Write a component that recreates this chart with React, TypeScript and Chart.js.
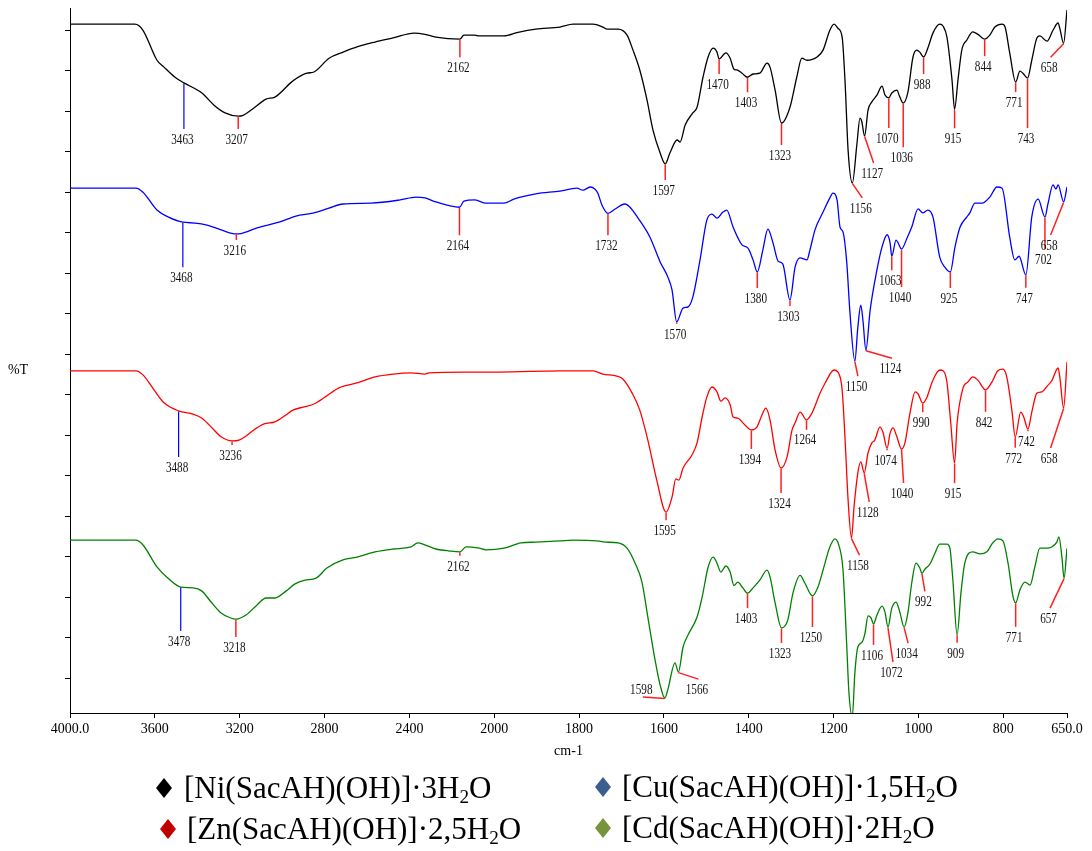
import React, { useEffect, useRef } from 'react';
import { Chart, registerables } from 'chart.js';

Chart.register(...registerables);

// ---------- axis ----------
const tickWavenumbers = [4000, 3600, 3200, 2800, 2400, 2000, 1800, 1600, 1400, 1200, 1000, 800, 650];
const tickLabels = ['4000.0', '3600', '3200', '2800', '2400', '2000', '1800', '1600', '1400', '1200', '1000', '800', '650.0'];
const yTicks = [0, 10, 20, 30, 40, 50, 60, 70, 80, 90, 100, 110, 120, 130, 140, 150, 160];

// spectrometer style axis: 2x expansion below 2000 cm-1
const toAxis = (w: number) => (w >= 2000 ? 4000 - w : 2000 + 2 * (2000 - w));

// ---------- series names / colours ----------
const seriesNames = ['[Ni(SacAH)(OH)]·3H₂O', '[Cu(SacAH)(OH)]·1,5H₂O', '[Zn(SacAH)(OH)]·2,5H₂O', '[Cd(SacAH)(OH)]·2H₂O'];
const seriesColors = ['#000000', '#0000ff', '#ff0000', '#008000'];
const legendMarkerColors = ['#000000', '#3a5f8f', '#c00000', '#77933c'];

// ---------- spectra: [wavenumber cm-1, %T (offset)] ----------
const niSpectrum: [number, number][] = [
  [4000, 161.5], [3694, 161.5], [3656, 160.0], [3590, 152.6], [3557, 150.9], [3505, 148.4], [3463, 147.0], [3378, 144.5],
  [3321, 141.5], [3269, 139.6], [3207, 138.8], [3184, 139.0], [3133, 140.8], [3076, 143.0], [3034, 143.5], [2949, 147.5],
  [2883, 149.4], [2850, 149.7], [2779, 153.1], [2713, 154.6], [2647, 155.9], [2562, 157.1], [2477, 158.1], [2378, 159.3],
  [2327, 159.0], [2275, 158.3], [2162, 157.8], [2143, 158.8], [2091, 158.8], [2072, 158.6], [1977, 158.6], [1944, 159.5],
  [1902, 160.3], [1845, 160.8], [1814, 161.5], [1767, 161.5], [1744, 160.8], [1734, 160.3], [1708, 160.3], [1687, 158.8],
  [1673, 155.1], [1657, 150.2], [1640, 142.8], [1626, 135.4], [1609, 129.7], [1597, 127.0], [1586, 129.7], [1569, 132.9],
  [1562, 132.4], [1550, 136.6], [1532, 139.6], [1522, 141.0], [1508, 148.4], [1496, 153.4], [1484, 155.6], [1475, 154.6],
  [1470, 152.9], [1454, 154.4], [1444, 153.1], [1435, 150.4], [1428, 150.2], [1416, 149.4], [1403, 148.4], [1390, 149.2],
  [1374, 149.4], [1357, 151.9], [1350, 150.9], [1338, 145.2], [1323, 137.1], [1303, 141.0], [1287, 148.4], [1275, 153.1],
  [1263, 152.6], [1239, 153.4], [1225, 155.1], [1209, 160.0], [1199, 161.5], [1190, 160.5], [1180, 158.3], [1173, 147.0],
  [1166, 130.4], [1156, 122.3], [1145, 132.1], [1138, 138.3], [1134, 137.6], [1127, 133.9], [1119, 140.3], [1110, 142.3],
  [1098, 144.0], [1086, 146.2], [1079, 144.0], [1070, 143.3], [1063, 144.5], [1051, 145.2], [1044, 143.5], [1036, 142.0],
  [1025, 144.7], [1013, 153.4], [1004, 155.1], [997, 154.6], [988, 153.4], [978, 155.6], [966, 159.3], [950, 161.5],
  [942, 161.0], [933, 158.3], [921, 147.7], [915, 140.5], [907, 147.7], [898, 155.1], [886, 157.6], [872, 159.6],
  [860, 159.0], [844, 157.8], [832, 158.8], [820, 160.8], [803, 161.5], [796, 160.8], [785, 154.4], [771, 147.2],
  [761, 149.9], [754, 149.4], [743, 148.2], [733, 152.6], [721, 158.1], [714, 158.6], [697, 157.3], [683, 160.0],
  [671, 161.8], [667, 160.5], [658, 156.8], [650, 165.0],
];

const cuSpectrum: [number, number][] = [
  [4000, 121.0], [3689, 121.0], [3656, 120.0], [3590, 115.6], [3538, 113.9], [3468, 112.6], [3411, 112.4], [3354, 111.9],
  [3288, 110.7], [3216, 109.7], [3194, 109.8], [3118, 111.2], [3015, 112.6], [2935, 114.1], [2850, 114.9], [2779, 116.1],
  [2713, 117.1], [2581, 117.3], [2444, 118.1], [2369, 118.8], [2327, 118.6], [2275, 117.6], [2164, 116.3], [2143, 117.8],
  [2091, 118.1], [2039, 117.3], [1977, 117.3], [1954, 118.3], [1902, 119.6], [1845, 120.3], [1805, 121.0], [1791, 120.5],
  [1774, 121.3], [1763, 120.8], [1756, 119.8], [1746, 116.8], [1732, 114.8], [1716, 115.8], [1692, 117.1], [1680, 116.3],
  [1661, 113.6], [1633, 108.9], [1609, 102.8], [1591, 99.1], [1581, 95.9], [1570, 88.0], [1555, 91.4], [1543, 91.7],
  [1532, 94.1], [1515, 103.3], [1499, 113.1], [1487, 114.6], [1475, 113.6], [1461, 115.1], [1452, 115.6], [1437, 111.4],
  [1416, 107.0], [1402, 106.2], [1390, 103.3], [1380, 100.3], [1367, 105.7], [1355, 110.9], [1343, 107.5], [1331, 103.0],
  [1320, 102.3], [1303, 93.4], [1291, 101.5], [1279, 103.8], [1263, 103.3], [1256, 105.7], [1244, 110.7], [1225, 115.1],
  [1209, 118.6], [1202, 119.8], [1192, 118.1], [1185, 111.4], [1178, 110.2], [1169, 102.5], [1162, 90.9], [1150, 78.3],
  [1143, 86.7], [1136, 92.1], [1131, 88.4], [1124, 81.0], [1114, 90.9], [1098, 100.8], [1086, 106.5], [1074, 109.5],
  [1067, 107.5], [1063, 104.2], [1053, 108.2], [1049, 107.7], [1040, 106.0], [1027, 108.7], [1016, 111.4], [1001, 115.9],
  [990, 114.9], [978, 115.6], [966, 113.9], [950, 104.0], [938, 101.5], [925, 100.3], [914, 106.5], [902, 111.4],
  [886, 113.9], [879, 114.9], [867, 117.3], [850, 117.3], [832, 118.8], [815, 121.3], [803, 121.0], [785, 108.9],
  [773, 103.3], [763, 104.2], [747, 99.6], [733, 113.9], [718, 118.3], [702, 113.9], [695, 117.1], [683, 121.8],
  [676, 120.8], [671, 121.8], [658, 117.6], [650, 121.3],
];

const znSpectrum: [number, number][] = [
  [4000, 75.9], [3689, 75.9], [3656, 74.9], [3604, 71.2], [3557, 68.0], [3488, 66.0], [3420, 65.2], [3378, 64.2],
  [3321, 61.3], [3288, 59.6], [3236, 58.6], [3203, 58.8], [3170, 59.8], [3128, 61.5], [3085, 62.8], [3034, 63.3],
  [2982, 65.0], [2949, 66.2], [2897, 67.0], [2850, 67.7], [2798, 69.4], [2732, 71.7], [2647, 72.9], [2562, 74.4],
  [2477, 75.1], [2393, 75.4], [2327, 75.1], [2308, 75.4], [2143, 75.6], [1987, 75.6], [1845, 75.9], [1767, 75.9],
  [1744, 75.1], [1711, 74.6], [1697, 73.9], [1675, 70.4], [1657, 66.2], [1638, 58.8], [1617, 48.9], [1595, 41.0],
  [1581, 44.7], [1572, 49.2], [1565, 48.9], [1555, 51.9], [1534, 55.1], [1522, 58.1], [1510, 64.5], [1499, 69.4],
  [1487, 71.9], [1475, 70.7], [1466, 68.4], [1456, 69.2], [1444, 67.5], [1437, 64.5], [1426, 64.2], [1409, 62.5],
  [1394, 61.3], [1381, 62.0], [1369, 65.0], [1360, 66.7], [1350, 63.8], [1338, 56.3], [1324, 51.9], [1310, 54.6],
  [1298, 61.3], [1291, 63.0], [1279, 65.7], [1264, 63.8], [1251, 65.5], [1232, 70.4], [1220, 72.9], [1199, 76.1],
  [1190, 75.6], [1180, 71.2], [1173, 58.8], [1166, 44.0], [1158, 34.6], [1152, 42.3], [1143, 50.7], [1136, 53.4],
  [1128, 50.7], [1119, 55.6], [1110, 58.1], [1103, 58.8], [1091, 62.0], [1084, 60.8], [1074, 56.8], [1067, 60.5],
  [1060, 61.8], [1051, 59.6], [1040, 56.6], [1032, 58.1], [1020, 65.5], [1008, 70.7], [1001, 70.2], [990, 67.9],
  [980, 69.4], [968, 73.1], [950, 76.1], [942, 75.9], [933, 73.1], [924, 63.0], [915, 53.1], [909, 63.0],
  [895, 71.7], [884, 73.1], [872, 74.4], [860, 73.6], [842, 71.2], [827, 73.1], [813, 75.9], [801, 76.3],
  [792, 74.4], [780, 66.2], [772, 59.6], [759, 65.7], [752, 64.5], [742, 61.5], [733, 65.7], [721, 70.4],
  [709, 70.7], [697, 72.1], [686, 73.4], [671, 76.6], [667, 74.4], [658, 66.7], [650, 78.1],
];

const cdSpectrum: [number, number][] = [
  [4000, 34.1], [3689, 34.1], [3656, 32.9], [3590, 27.5], [3538, 24.7], [3478, 22.5], [3420, 22.3], [3378, 21.5],
  [3335, 18.8], [3288, 16.1], [3240, 14.8], [3218, 14.6], [3170, 15.6], [3118, 18.1], [3076, 19.8], [3034, 19.8],
  [2982, 21.5], [2939, 23.3], [2892, 24.2], [2840, 24.7], [2789, 27.2], [2713, 29.2], [2647, 29.9], [2562, 31.2],
  [2477, 31.9], [2393, 32.4], [2360, 33.4], [2327, 32.9], [2275, 31.9], [2209, 31.4], [2162, 31.2], [2133, 32.4],
  [2072, 32.1], [2039, 31.7], [1977, 32.1], [1937, 33.4], [1902, 33.6], [1845, 33.9], [1814, 34.1], [1758, 33.9],
  [1739, 33.6], [1708, 33.4], [1687, 32.1], [1668, 28.4], [1652, 23.8], [1638, 15.1], [1621, 4.5], [1609, -1.7],
  [1598, -4.9], [1591, -2.9], [1574, 3.8], [1566, 1.5], [1555, 7.7], [1543, 10.7], [1522, 15.1], [1510, 20.0],
  [1496, 27.4], [1484, 29.9], [1475, 28.4], [1466, 26.2], [1454, 27.7], [1444, 26.2], [1435, 22.9], [1426, 23.7],
  [1414, 22.3], [1403, 21.0], [1390, 22.3], [1374, 24.2], [1357, 26.7], [1350, 25.0], [1338, 18.6], [1323, 12.4],
  [1308, 14.4], [1296, 21.0], [1279, 25.4], [1268, 23.5], [1250, 20.3], [1237, 22.5], [1225, 26.7], [1209, 32.4],
  [1197, 34.4], [1188, 32.9], [1178, 26.7], [1169, 7.7], [1164, -3.6], [1156, -9.5], [1150, 1.3], [1143, 7.7],
  [1133, 8.9], [1126, 11.2], [1119, 15.4], [1112, 14.9], [1106, 13.4], [1098, 15.6], [1086, 17.8], [1079, 16.3],
  [1072, 12.6], [1063, 17.3], [1053, 18.8], [1044, 16.3], [1034, 12.6], [1025, 16.1], [1016, 23.5], [1006, 28.4],
  [997, 27.2], [992, 25.9], [985, 26.9], [973, 28.2], [961, 30.9], [950, 33.1], [933, 33.1], [926, 32.1],
  [919, 24.2], [909, 10.7], [900, 21.0], [891, 28.4], [872, 31.2], [855, 30.7], [839, 31.2], [825, 33.4],
  [813, 34.4], [801, 33.9], [789, 28.4], [777, 20.0], [771, 18.6], [761, 21.8], [749, 23.7], [737, 23.0],
  [726, 27.4], [714, 32.1], [697, 32.1], [686, 32.4], [674, 33.6], [669, 34.9], [662, 29.9], [657, 24.7], [650, 32.1],
];

// ---------- labelled peaks ----------
const niPeaks = [3463, 3207, 2162, 1597, 1470, 1403, 1323, 1156, 1127, 1070, 1036, 988, 915, 844, 771, 743, 658];
const cuPeaks = [3468, 3216, 2164, 1732, 1570, 1380, 1303, 1150, 1124, 1063, 1040, 925, 747, 702, 658];
const znPeaks = [3488, 3236, 1595, 1394, 1324, 1264, 1158, 1128, 1074, 1040, 990, 915, 842, 772, 742, 658];
const cdPeaks = [3478, 3218, 2162, 1598, 1566, 1403, 1323, 1250, 1106, 1072, 1034, 992, 909, 771, 657];

// leader-line layout for each peak label: [dx px, dy px, colour key, text dy override]
type Leader = [number, number, string?, number?];
const niLeaders: Leader[] = [[0, 46, 'b'], [0, 13], [0, 18], [0, 16], [0, 15], [0, 15], [0, 22], [10, 15], [9, 27], [0, 30], [0, 44], [0, 17], [0, 19], [0, 17], [0, 10], [0, 50], [-13, 14]];
const cuLeaders: Leader[] = [[0, 45, 'b'], [0, 6], [0, 28], [0, 22], [0, 2], [0, 16], [0, 6], [3, 15], [26, 8], [0, 14], [0, 38], [0, 16], [0, 13], [0, 32], [-13, 33]];
const znLeaders: Leader[] = [[0, 46, 'b'], [0, 4], [0, 8], [0, 19], [0, 25], [0, 10], [8, 17], [5, 29], [0, 2], [2, 34], [0, 9], [0, 20], [0, 22], [0, 11], [0, 2], [-13, 40]];
const cdLeaders: Leader[] = [[0, 44, 'b'], [0, 18], [0, 4], [-22, -1, 'r', -7], [20, 7], [0, 15], [0, 15], [0, 31], [0, 21], [5, 35], [4, 16], [3, 18], [0, 8], [0, 24], [-14, 30]];

const seriesList = [
  { data: niSpectrum, peaks: niPeaks, leaders: niLeaders },
  { data: cuSpectrum, peaks: cuPeaks, leaders: cuLeaders },
  { data: znSpectrum, peaks: znPeaks, leaders: znLeaders },
  { data: cdSpectrum, peaks: cdPeaks, leaders: cdLeaders },
];

// legend placement (px): marker centre x, text left, row centre y
const legendLayout = [
  { mx: 164, tx: 184, cy: 788 },
  { mx: 603, tx: 622, cy: 787 },
  { mx: 168, tx: 187, cy: 829 },
  { mx: 603, tx: 622, cy: 828 },
];

const SERIF = '"Liberation Serif", "Times New Roman", serif';

const annotationPlugin = {
  id: 'irAnnotations',
  afterDatasetsDraw(chart: any) {
    const { ctx, scales } = chart;
    const xs = scales.x;
    const ys = scales.y;
    ctx.save();
    seriesList.forEach((s) => {
      s.peaks.forEach((wn, i) => {
        const pt = s.data.find((p) => p[0] === wn);
        if (!pt) return;
        const px = xs.getPixelForValue(toAxis(pt[0]));
        const py = ys.getPixelForValue(pt[1]);
        const [dx, dy, kind, tdy] = s.leaders[i];
        const ex = px + dx;
        const ey = py + dy;
        ctx.beginPath();
        ctx.strokeStyle = kind === 'b' ? '#0000ff' : '#ff2020';
        ctx.lineWidth = kind === 'b' ? 1.2 : 1.5;
        ctx.moveTo(px, py + 0.5);
        ctx.lineTo(ex, ey);
        ctx.stroke();
        ctx.save();
        ctx.translate(ex - 1.5, ey + (tdy !== undefined ? tdy : 11));
        ctx.scale(0.8, 1);
        ctx.font = `14px ${SERIF}`;
        ctx.fillStyle = '#111111';
        ctx.textAlign = 'center';
        ctx.textBaseline = 'middle';
        ctx.fillText(String(wn), 0, 0);
        ctx.restore();
      });
    });
    ctx.font = `14px ${SERIF}`;
    ctx.fillStyle = '#000000';
    ctx.textAlign = 'center';
    ctx.textBaseline = 'middle';
    ctx.fillText('%T', 18, 370);
    ctx.fillText('cm-1', (chart.chartArea.left + chart.chartArea.right) / 2, 751);
    ctx.restore();
  },
};

function renderName(name: string) {
  const parts = name.split('₂');
  return (
    <>
      {parts[0]}
      <span style={{ fontSize: '0.62em', position: 'relative', top: '0.28em' }}>2</span>
      {parts[1]}
    </>
  );
}

export default function App() {
  const canvasRef = useRef<HTMLCanvasElement | null>(null);

  useEffect(() => {
    if (!canvasRef.current) return;
    const chart = new Chart(canvasRef.current, {
      type: 'line',
      data: {
        datasets: seriesList.map((s, i) => ({
          label: seriesNames[i],
          data: s.data.map(([w, t]) => ({ x: toAxis(w), y: t })),
          borderColor: seriesColors[i],
          backgroundColor: seriesColors[i],
          borderWidth: 1.3,
          pointRadius: 0,
          fill: false,
          cubicInterpolationMode: 'monotone' as const,
        })),
      },
      options: {
        animation: false,
        responsive: false,
        events: [],
        layout: { padding: { left: 0, top: 8, right: 25, bottom: 91 } },
        plugins: {
          legend: { display: false },
          tooltip: { enabled: false },
        },
        scales: {
          x: {
            type: 'linear',
            min: 0,
            max: toAxis(650),
            afterBuildTicks: (scale: any) => {
              scale.ticks = tickWavenumbers.map((w) => ({ value: toAxis(w) }));
            },
            afterFit: (scale: any) => {
              scale.height = 47;
            },
            ticks: {
              autoSkip: false,
              maxRotation: 0,
              padding: 3,
              color: '#000000',
              font: { family: SERIF, size: 14 },
              callback: (_v: any, index: number) => tickLabels[index],
            },
            grid: { drawOnChartArea: false, drawTicks: true, tickLength: 5, color: '#000000' },
            border: { display: true, color: '#000000', width: 1 },
          },
          y: {
            type: 'linear',
            min: -8.6,
            max: 165.5,
            afterBuildTicks: (scale: any) => {
              scale.ticks = yTicks.map((v) => ({ value: v }));
            },
            afterFit: (scale: any) => {
              scale.width = 70;
            },
            ticks: { display: false },
            grid: { drawOnChartArea: false, drawTicks: true, tickLength: 5, color: '#000000' },
            border: { display: true, color: '#000000', width: 1 },
          },
        },
      },
      plugins: [annotationPlugin],
    } as any);
    return () => chart.destroy();
  }, []);

  return (
    <div style={{ position: 'fixed', left: 0, top: 0, width: 1092, height: 851, background: '#ffffff', overflow: 'hidden' }}>
      <canvas ref={canvasRef} width={1092} height={851} style={{ display: 'block', width: 1092, height: 851 }} />
      {legendLayout.map((l, i) => (
        <React.Fragment key={i}>
          <svg
            width={16}
            height={20}
            style={{ position: 'absolute', left: l.mx - 8, top: l.cy - 10 }}
          >
            <polygon points="8,0 16,10 8,20 0,10" fill={legendMarkerColors[i]} />
          </svg>
          <div
            style={{
              position: 'absolute',
              left: l.tx,
              top: l.cy - 16,
              height: 32,
              lineHeight: '31px',
              fontSize: 31,
              fontFamily: SERIF,
              color: '#000000',
              whiteSpace: 'nowrap',
            }}
          >
            {renderName(seriesNames[i])}
          </div>
        </React.Fragment>
      ))}
    </div>
  );
}
